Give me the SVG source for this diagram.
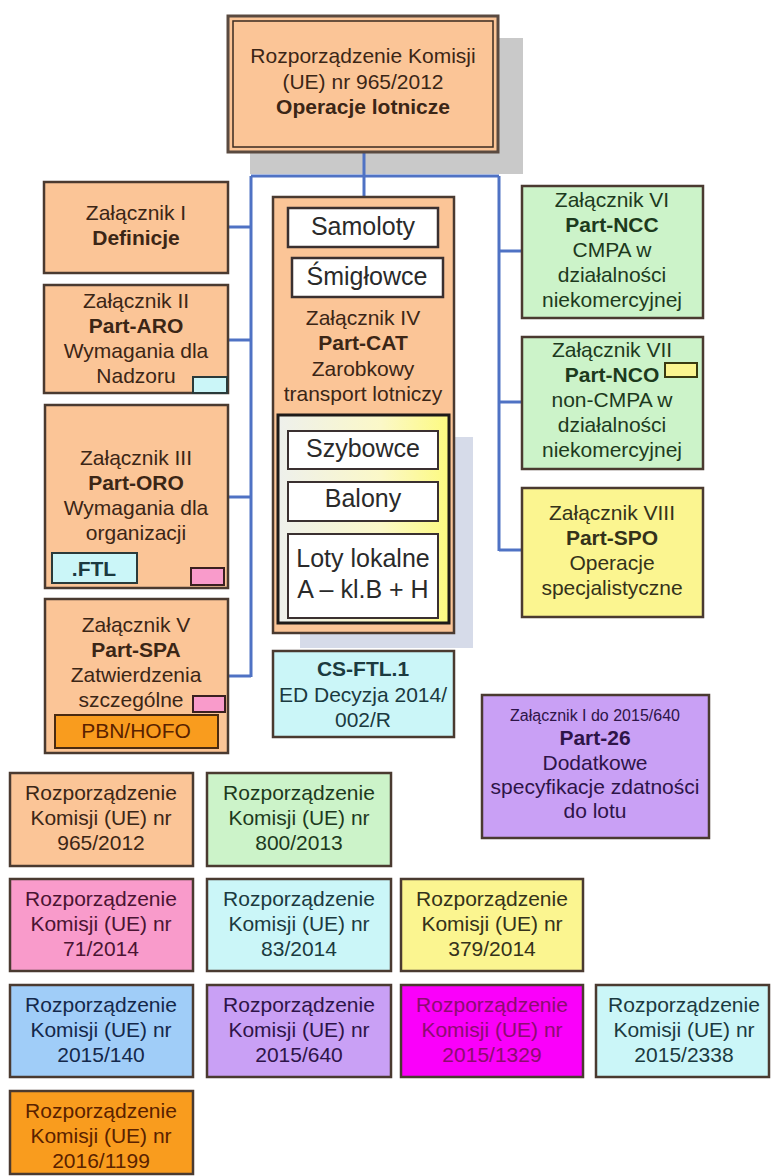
<svg xmlns="http://www.w3.org/2000/svg" width="771" height="1176" viewBox="0 0 771 1176">
<defs>
<style>
text{font-family:"Liberation Sans",Arial,sans-serif;font-size:21px;text-anchor:middle}
.b{font-weight:bold}
.box{stroke:#4a3a30;stroke-width:2.5}
.peach{fill:#fbc597}
.green{fill:#ccf3c9}
.yellow{fill:#fbf590}
.cyan{fill:#cbf6f8}
.pink{fill:#f99bcb}
.blue{fill:#a0cdf8}
.purple{fill:#c9a0f5}
.magenta{fill:#fa00fa}
.orange{fill:#f99c1e}
.white{fill:#ffffff}
.tp{fill:#3b2616}
.tg{fill:#1d3a1d}
.ty{fill:#34321a}
.tc{fill:#1b3a40}
.tk{fill:#4a1432}
.tb{fill:#14284a}
.tv{fill:#2e1448}
.tm{fill:#8c0c70}
.to{fill:#5a2200}
.big{font-size:25px;fill:#2a2a2a}
.conn{stroke:#4f72c4;stroke-width:3;fill:none}
</style>
<linearGradient id="yg" x1="0" y1="0" x2="1" y2="0">
<stop offset="0" stop-color="#eef0ec"/>
<stop offset="0.6" stop-color="#fbf8c8"/>
<stop offset="1" stop-color="#fdfa80"/>
</linearGradient>
</defs>
<rect width="771" height="1176" fill="#ffffff"/>

<!-- shadows -->
<rect x="250" y="38" width="273" height="136" fill="#c9c9c9"/>
<rect x="300" y="437" width="173" height="211" fill="#d6dbe9"/>

<g id="connectors">
<path class="conn" d="M364 153 V197"/>
<path class="conn" d="M251 176 H499"/>
<path class="conn" d="M251 176 V677"/>
<path class="conn" d="M499 176 V551"/>
<path class="conn" d="M228 227 H251"/>
<path class="conn" d="M228 340 H251"/>
<path class="conn" d="M228 497 H251"/>
<path class="conn" d="M228 676 H251"/>
<path class="conn" d="M499 251 H522"/>
<path class="conn" d="M499 402 H522"/>
<path class="conn" d="M499 550 H522"/>
</g>

<g id="root">
<rect x="228" y="16" width="270" height="136" class="peach" stroke="#5a4a40" stroke-width="3"/>
<rect x="233" y="21" width="260" height="126" fill="none" stroke="#3a2a20" stroke-width="1.5"/>
<text x="363" y="63" class="tp">Rozporządzenie Komisji</text>
<text x="363" y="89" class="tp">(UE) nr 965/2012</text>
<text x="363" y="114" class="tp b">Operacje lotnicze</text>
</g>

<g id="zal1">
<rect x="44" y="182" width="184" height="91" class="box peach"/>
<text x="136" y="220" class="tp">Załącznik I</text>
<text x="136" y="245" class="tp b">Definicje</text>
</g>

<g id="zal2">
<rect x="44" y="285" width="184" height="108" class="box peach"/>
<text x="136" y="308" class="tp">Załącznik II</text>
<text x="136" y="333" class="tp b">Part-ARO</text>
<text x="136" y="358" class="tp">Wymagania dla</text>
<text x="136" y="383" class="tp">Nadzoru</text>
<rect x="193" y="377" width="34" height="16" class="cyan" stroke="#2a3a3a" stroke-width="2"/>
</g>

<g id="zal3">
<rect x="45" y="405" width="183" height="183" class="box peach"/>
<text x="136" y="465" class="tp">Załącznik III</text>
<text x="136" y="490" class="tp b">Part-ORO</text>
<text x="136" y="515" class="tp">Wymagania dla</text>
<text x="136" y="540" class="tp">organizacji</text>
<rect x="52" y="553" width="85" height="30" class="cyan" stroke="#2a3a3a" stroke-width="2"/>
<text x="94" y="576" class="tc b">.FTL</text>
<rect x="191" y="568" width="33" height="17" class="pink" stroke="#3a2020" stroke-width="2"/>
</g>

<g id="zal5">
<rect x="45" y="599" width="183" height="154" class="box peach"/>
<text x="136" y="632" class="tp">Załącznik V</text>
<text x="136" y="657" class="tp b">Part-SPA</text>
<text x="136" y="682" class="tp">Zatwierdzenia</text>
<text x="131" y="707" class="tp">szczególne</text>
<rect x="193" y="696" width="32" height="16" class="pink" stroke="#3a2020" stroke-width="2"/>
<rect x="55" y="715" width="163" height="33" class="orange" stroke="#4a2a10" stroke-width="2"/>
<text x="136" y="738" class="to">PBN/HOFO</text>
</g>

<g id="zal4">
<rect x="273" y="197" width="181" height="436" class="box peach"/>
<g id="samoloty">
<rect x="288" y="208" width="150" height="39" class="white" stroke="#3a3030" stroke-width="2.5"/>
<text x="363" y="235" class="big">Samoloty</text>
</g>
<g id="smiglowce">
<rect x="292" y="258" width="151" height="39" class="white" stroke="#3a3030" stroke-width="2.5"/>
<text x="367" y="285" class="big">Śmigłowce</text>
</g>
<text x="363" y="325" class="tp">Załącznik IV</text>
<text x="363" y="350" class="tp b">Part-CAT</text>
<text x="363" y="376" class="tp">Zarobkowy</text>
<text x="363" y="401" class="tp">transport lotniczy</text>
<rect x="278" y="415" width="171" height="208" fill="url(#yg)" stroke="#1e1a18" stroke-width="3"/>
<g id="szybowce">
<rect x="288" y="431" width="150" height="38" class="white" stroke="#3a3030" stroke-width="2"/>
<text x="363" y="457" class="big">Szybowce</text>
</g>
<g id="balony">
<rect x="288" y="482" width="150" height="39" class="white" stroke="#3a3030" stroke-width="2"/>
<text x="363" y="507" class="big">Balony</text>
</g>
<g id="loty">
<rect x="288" y="534" width="150" height="84" class="white" stroke="#3a3030" stroke-width="2"/>
<text x="363" y="567" class="big">Loty lokalne</text>
<text x="363" y="598" class="big">A – kl.B + H</text>
</g>
</g>

<g id="csftl">
<rect x="273" y="651" width="181" height="86" class="box cyan"/>
<text x="363" y="676" class="tc b">CS-FTL.1</text>
<text x="363" y="702" class="tc">ED Decyzja 2014/</text>
<text x="363" y="727" class="tc">002/R</text>
</g>

<g id="zal6">
<rect x="522" y="186" width="181" height="132" class="box green"/>
<text x="612" y="207" class="tg">Załącznik VI</text>
<text x="612" y="232" class="tg b">Part-NCC</text>
<text x="612" y="257" class="tg">CMPA w</text>
<text x="612" y="282" class="tg">działalności</text>
<text x="612" y="307" class="tg">niekomercyjnej</text>
</g>

<g id="zal7">
<rect x="522" y="337" width="181" height="132" class="box green"/>
<text x="612" y="357" class="tg">Załącznik VII</text>
<text x="612" y="382" class="tg b">Part-NCO</text>
<rect x="665" y="363" width="32" height="14" class="yellow" stroke="#3a3a10" stroke-width="2"/>
<text x="612" y="407" class="tg">non-CMPA w</text>
<text x="612" y="432" class="tg">działalności</text>
<text x="612" y="457" class="tg">niekomercyjnej</text>
</g>

<g id="zal8">
<rect x="522" y="488" width="181" height="129" class="box yellow"/>
<text x="612" y="520" class="ty">Załącznik VIII</text>
<text x="612" y="545" class="ty b">Part-SPO</text>
<text x="612" y="570" class="ty">Operacje</text>
<text x="612" y="595" class="ty">specjalistyczne</text>
</g>

<g id="part26">
<rect x="482" y="695" width="227" height="143" class="box purple"/>
<text x="595" y="721" class="tv" style="font-size:16px">Załącznik I do 2015/640</text>
<text x="595" y="745" class="tv b">Part-26</text>
<text x="595" y="770" class="tv">Dodatkowe</text>
<text x="595" y="794" class="tv">specyfikacje zdatności</text>
<text x="595" y="818" class="tv">do lotu</text>
</g>

<g id="leg965">
<rect x="10" y="773" width="183" height="93" class="box peach"/>
<text x="101" y="800" class="tp">Rozporządzenie</text>
<text x="101" y="825" class="tp">Komisji (UE) nr</text>
<text x="101" y="850" class="tp">965/2012</text>
</g>
<g id="leg800">
<rect x="207" y="773" width="184" height="93" class="box green"/>
<text x="299" y="800" class="tg">Rozporządzenie</text>
<text x="299" y="825" class="tg">Komisji (UE) nr</text>
<text x="299" y="850" class="tg">800/2013</text>
</g>

<g id="leg71">
<rect x="10" y="879" width="183" height="92" class="box pink"/>
<text x="101" y="906" class="tk">Rozporządzenie</text>
<text x="101" y="931" class="tk">Komisji (UE) nr</text>
<text x="101" y="956" class="tk">71/2014</text>
</g>
<g id="leg83">
<rect x="207" y="879" width="184" height="92" class="box cyan"/>
<text x="299" y="906" class="tc">Rozporządzenie</text>
<text x="299" y="931" class="tc">Komisji (UE) nr</text>
<text x="299" y="956" class="tc">83/2014</text>
</g>
<g id="leg379">
<rect x="401" y="879" width="182" height="92" class="box yellow"/>
<text x="492" y="906" class="ty">Rozporządzenie</text>
<text x="492" y="931" class="ty">Komisji (UE) nr</text>
<text x="492" y="956" class="ty">379/2014</text>
</g>

<g id="leg140">
<rect x="10" y="985" width="183" height="92" class="box blue"/>
<text x="101" y="1012" class="tb">Rozporządzenie</text>
<text x="101" y="1037" class="tb">Komisji (UE) nr</text>
<text x="101" y="1062" class="tb">2015/140</text>
</g>
<g id="leg640">
<rect x="207" y="985" width="184" height="92" class="box purple"/>
<text x="299" y="1012" class="tv">Rozporządzenie</text>
<text x="299" y="1037" class="tv">Komisji (UE) nr</text>
<text x="299" y="1062" class="tv">2015/640</text>
</g>
<g id="leg1329">
<rect x="401" y="985" width="182" height="92" class="box magenta"/>
<text x="492" y="1012" class="tm">Rozporządzenie</text>
<text x="492" y="1037" class="tm">Komisji (UE) nr</text>
<text x="492" y="1062" class="tm">2015/1329</text>
</g>
<g id="leg2338">
<rect x="596" y="985" width="173" height="92" class="box cyan"/>
<text x="684" y="1012" class="tc">Rozporządzenie</text>
<text x="684" y="1037" class="tc">Komisji (UE) nr</text>
<text x="684" y="1062" class="tc">2015/2338</text>
</g>

<g id="leg1199">
<rect x="10" y="1091" width="183" height="83" class="box orange"/>
<text x="101" y="1118" class="to">Rozporządzenie</text>
<text x="101" y="1143" class="to">Komisji (UE) nr</text>
<text x="101" y="1168" class="to">2016/1199</text>
</g>
</svg>
